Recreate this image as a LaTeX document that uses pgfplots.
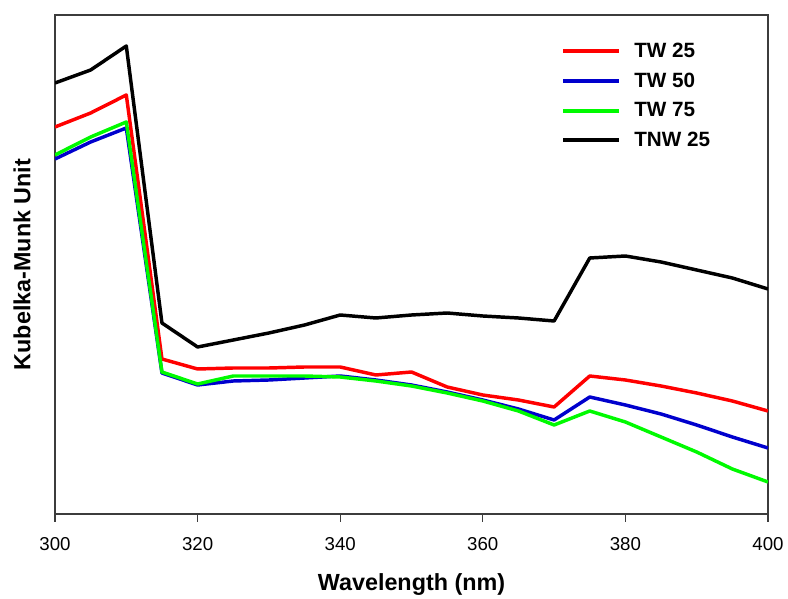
\documentclass[border=0pt]{standalone}
\usepackage{fontspec}
\setmainfont{Liberation Sans}
\usepackage{pgfplots}
\pgfplotsset{compat=1.18}
\definecolor{cred}{RGB}{255,0,0}
\definecolor{cblue}{RGB}{0,0,205}
\definecolor{cgreen}{RGB}{0,250,0}
\definecolor{frame}{RGB}{60,60,60}

% y values: arbitrary Kubelka-Munk units
\pgfplotstableread{
x    tw25 tw50 tw75 tnw25
300  387  355  359  431
305  401  372  377  444
310  419  386  392  468
315  155  141  142  191
320  145  129  130  167
325  146  133  138  174
330  146  134  138  181
335  147  136  138  189
340  147  138  137  199
345  139  134  133  196
350  142  129  128  199
355  127  122  121  201
360  119  114  113  198
365  114  105  103  196
370  107   94   89  193
375  138  117  103  256
380  134  109   92  258
385  128  100   77  252
390  121   89   62  244
395  113   77   45  236
400  103   66   32  225
}\kmdata

\begin{document}
\begin{tikzpicture}
\begin{axis}[
  width=534.75pt, height=374.25pt, scale only axis,
  xmin=300, xmax=400, ymin=0, ymax=499,
  xtick={300,320,...,400}, ytick=\empty,
  axis line style={frame, line width=0.8pt},
  tick style={frame, line width=0.8pt},
  xtick pos=bottom, tick align=outside, major tick length=6pt,
  tick label style={font=\fontsize{14}{16}\selectfont},
  xticklabel style={yshift=-8pt},
  /pgf/number format/assume math mode=true,
  xlabel={Wavelength (nm)},
  ylabel={Kubelka-Munk Unit},
  every axis x label/.style={at={(axis description cs:0.5,0)}, anchor=center,
    yshift=-53pt, font=\bfseries\fontsize{17.5}{20}\selectfont},
  every axis y label/.style={at={(axis description cs:0,0.5)}, anchor=center,
    rotate=90, yshift=24.75pt, font=\bfseries\fontsize{17.5}{20}\selectfont},
  legend style={draw=none, fill=none, at={(0.704,0.955)}, anchor=north west,
    font=\bfseries\fontsize{15.5}{18}\selectfont, row sep=6pt,
    cells={anchor=west}},
  legend image code/.code={\draw[#1, line width=3pt] (0pt,0pt) -- (42pt,0pt); \path (50pt,0pt);},
  every axis plot/.append style={line width=2.6pt, line join=round},
]
\addplot[cred] table[x=x, y=tw25] {\kmdata};
\addlegendentry{TW 25}
\addplot[cblue] table[x=x, y=tw50] {\kmdata};
\addlegendentry{TW 50}
\addplot[cgreen] table[x=x, y=tw75] {\kmdata};
\addlegendentry{TW 75}
\addplot[black] table[x=x, y=tnw25] {\kmdata};
\addlegendentry{TNW 25}
\coordinate (sw) at (rel axis cs:0,0);
\coordinate (ne) at (rel axis cs:1,1);
\end{axis}
\pgfresetboundingbox
\path (sw) ++(-41.25pt,-63.75pt) coordinate (bl);
\path (ne) ++(15pt,11.25pt) coordinate (tr);
\useasboundingbox (bl) rectangle (tr);
\end{tikzpicture}
\end{document}
